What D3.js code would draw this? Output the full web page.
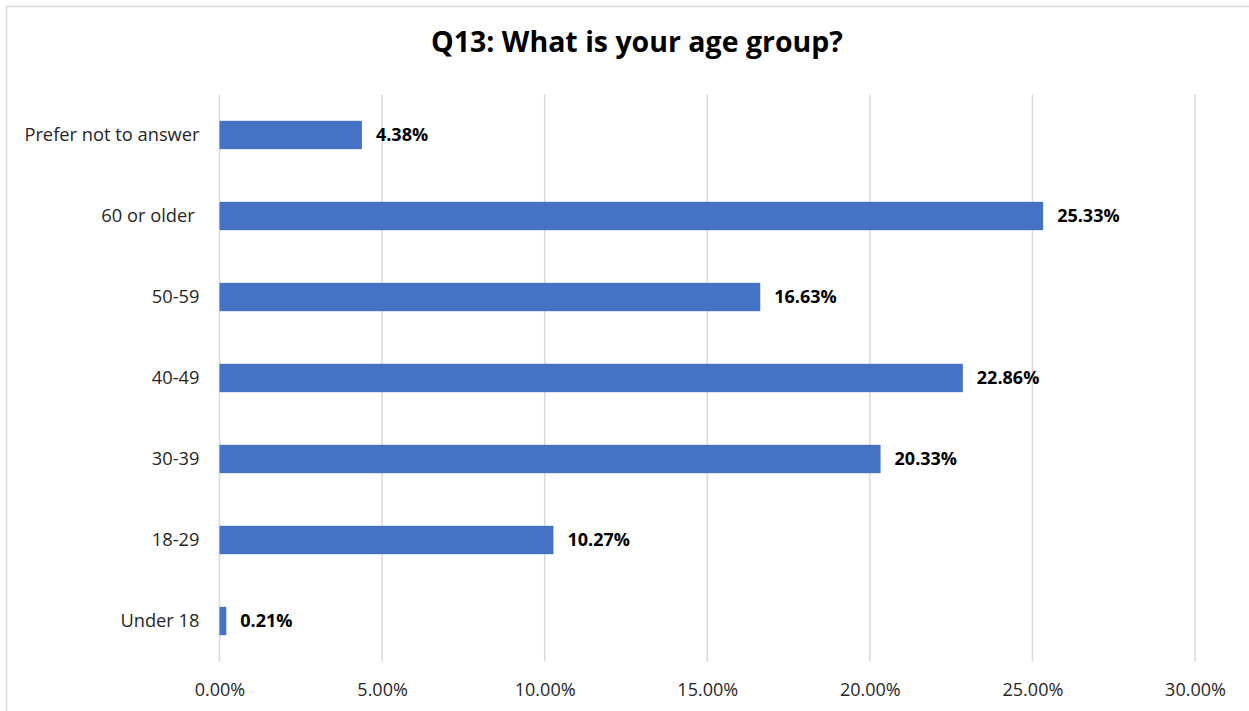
<!DOCTYPE html>
<html>
<head>
<meta charset="utf-8">
<title>Q13</title>
<script src="https://cdn.jsdelivr.net/npm/d3@7"></script>
<style>
  body { margin: 0; background: #fff; }
  text { font-family: "Open Sans", sans-serif; }
</style>
</head>
<body>
<script>
var categories = ["Prefer not to answer", "60 or older ", "50-59", "40-49", "30-39", "18-29", "Under 18"];
var values = [4.38, 25.33, 16.63, 22.86, 20.33, 10.27, 0.21];
var tickValues = [0, 5, 10, 15, 20, 25, 30];

var width = 1249, height = 711;
var plotLeft = 219.5, plotRight = 1195, plotTop = 94.5, plotBottom = 661.5;

var svg = d3.select("body").append("svg").attr("width", width).attr("height", height);

// chart border (right and bottom run off the picture)
svg.append("rect")
    .attr("x", 6.5).attr("y", 6.5)
    .attr("width", width + 10).attr("height", height + 10)
    .attr("fill", "none").attr("stroke", "#d9d9d9").attr("stroke-width", 1.5);

svg.append("text")
    .attr("x", 637).attr("y", 52)
    .attr("text-anchor", "middle")
    .attr("font-size", 28.5).attr("font-weight", "bold").attr("fill", "#000")
    .text("Q13: What is your age group?");

var x = d3.scaleLinear().domain([0, 30]).range([plotLeft, plotRight]);
var y = d3.scaleBand().domain(categories).range([plotTop, plotBottom]).paddingInner(0.65).paddingOuter(0.325);

// gridlines
svg.selectAll("line.grid").data(tickValues).enter().append("line")
    .attr("class", "grid")
    .attr("x1", function (d) { return x(d); })
    .attr("x2", function (d) { return x(d); })
    .attr("y1", plotTop).attr("y2", plotBottom)
    .attr("stroke", "#d9d9d9").attr("stroke-width", 1.5);

// x tick labels
var xAxis = svg.append("g")
    .attr("transform", "translate(0," + plotBottom + ")")
    .call(d3.axisBottom(x).tickValues(tickValues).tickSize(0).tickPadding(22)
        .tickFormat(function (d) { return d.toFixed(2) + "%"; }));
xAxis.select(".domain").remove();
xAxis.selectAll("text").attr("font-size", 18).attr("fill", "#262626").attr("font-family", "Open Sans, sans-serif");

// y category labels (keep the trailing space of "60 or older ")
var yAxis = svg.append("g")
    .attr("transform", "translate(" + plotLeft + ",0)")
    .call(d3.axisLeft(y).tickSize(0).tickPadding(20));
yAxis.select(".domain").remove();
yAxis.selectAll("text").attr("font-size", 18.3).attr("fill", "#262626").attr("font-family", "Open Sans, sans-serif")
    .style("white-space", "pre");

// bars
svg.selectAll("rect.bar").data(values).enter().append("rect")
    .attr("class", "bar")
    .attr("x", x(0))
    .attr("y", function (d, i) { return y(categories[i]); })
    .attr("width", function (d) { return x(d) - x(0); })
    .attr("height", y.bandwidth())
    .attr("fill", "#4472c4");

// value labels
svg.selectAll("text.val").data(values).enter().append("text")
    .attr("class", "val")
    .attr("x", function (d) { return x(d) + 14; })
    .attr("y", function (d, i) { return y(categories[i]) + y.bandwidth() / 2; })
    .attr("dy", "0.35em")
    .attr("font-size", 18).attr("font-weight", "bold").attr("fill", "#000")
    .text(function (d) { return d.toFixed(2) + "%"; });
</script>
</body>
</html>
